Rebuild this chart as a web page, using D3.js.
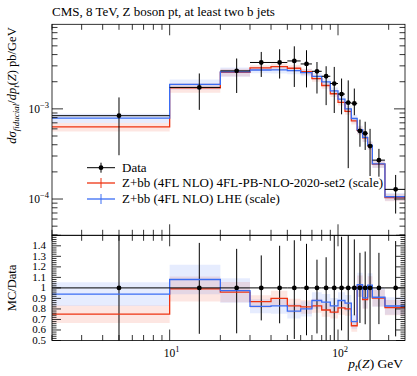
<!DOCTYPE html>
<html>
<head>
<meta charset="utf-8">
<script src="https://cdn.jsdelivr.net/npm/d3@7"></script>
<style>
	body{margin:0;background:#fff;}
	svg{font-family:'Liberation Serif',serif;}
</style>
</head>
<body>
<svg id="chart" width="417" height="376"></svg>
<script>
// pt(Z) bin edges and centres, GeV
const binEdges = [0,10,20,30,40,50,60,70,80,90,100,110,120,130,140,150,160,190,250]
const binCentres = [5,15,25,35,45,55,65,75,85,95,105,115,125,135,145,155,175,220]

// CMS data, pb/GeV (value, top and bottom of the error bar)
const dataValues = [8.4e-4,1.73e-3,2.64e-3,3.27e-3,3.27e-3,3.40e-3,3.15e-3,2.61e-3,2.30e-3,1.91e-3,1.46e-3,1.17e-3,1.15e-3,5.7e-4,5.35e-4,3.87e-4,2.70e-4,1.28e-4]
const dataErrTop = [1.34e-3,2.47e-3,3.62e-3,4.28e-3,4.58e-3,4.94e-3,4.47e-3,3.31e-3,2.97e-3,2.92e-3,2.17e-3,2.07e-3,1.68e-3,7.6e-4,7.2e-4,6.0e-4,3.6e-4,1.85e-4]
const dataErrBottom = [3.06e-4,9.75e-4,1.50e-3,2.26e-3,2.17e-3,1.75e-3,1.73e-3,1.48e-3,1.10e-3,9.0e-4,8.7e-4,2.2e-4,8.5e-4,3.8e-4,3.5e-4,1.8e-4,1.77e-4,6.9e-5]

// MC predictions, pb/GeV
const pbValues = [6.30e-4,1.713e-3,2.534e-3,2.845e-3,2.943e-3,2.822e-3,2.583e-3,2.166e-3,1.817e-3,1.471e-3,1.183e-3,9.36e-4,7.36e-4,5.79e-4,4.76e-4,3.91e-4,2.44e-4,1.04e-4]
const lheValues = [7.90e-4,1.868e-3,2.574e-3,2.698e-3,2.714e-3,2.652e-3,2.520e-3,2.297e-3,1.990e-3,1.585e-3,1.285e-3,1.000e-3,7.82e-4,5.87e-4,4.84e-4,3.97e-4,2.46e-4,1.06e-4]

// relative scale uncertainty (half width)
const pbBand = [0.11,0.12,0.10,0.07,0.08,0.08,0.08,0.08,0.08,0.08,0.08,0.08,0.09,0.10,0.10,0.10,0.09,0.09]
const lheBand = [0.12,0.13,0.12,0.08,0.09,0.09,0.09,0.09,0.09,0.09,0.09,0.09,0.10,0.11,0.11,0.11,0.10,0.10]

const legendLabels = ['Data','Z+bb (4FL NLO) 4FL-PB-NLO-2020-set2 (scale)','Z+bb (4FL NLO) LHE (scale)']
const ratioTickLabels = ['1.4','1.3','1.2','1.1','1','0.9','0.8','0.7','0.6','0.5']

const colours = {pb:'#ee3311', lhe:'#3a6cf4'}
const bandColours = {pb:'rgba(238,51,17,0.12)', lhe:'rgba(58,108,244,0.13)'}

let frame = {left:52, right:405, top:24.3, split:235.3, bottom:340.5}

const svg = d3.select('#chart')

const xScale = d3.scaleLog().domain([2,250]).range([frame.left,frame.right])
const yTop = d3.scaleLog().domain([3.96e-5,8.67e-3]).range([frame.split,frame.top])
const yRatio = d3.scaleLinear().domain([0.5,1.5]).range([frame.bottom,frame.split])

const bx = (v)=> xScale(Math.max(v, xScale.domain()[0]))

// clip paths
const defs = svg.append('defs')
defs.append('clipPath').attr('id','clipTop').append('rect')
	.attr('x',frame.left).attr('y',frame.top)
	.attr('width',frame.right-frame.left).attr('height',frame.split-frame.top)
defs.append('clipPath').attr('id','clipRatio').append('rect')
	.attr('x',frame.left).attr('y',frame.split)
	.attr('width',frame.right-frame.left).attr('height',frame.bottom-frame.split)

const steps = (vals, band)=> vals.flatMap((v,i)=>[
	[binEdges[i], v, band ? band[i] : 0],
	[binEdges[i+1], v, band ? band[i] : 0]
])

/* ---------- top panel ---------- */
const topPanel = svg.append('g').attr('clip-path','url(#clipTop)')

const bandArea = (y)=> d3.area()
	.x(d => bx(d[0]))
	.y0(d => y(d[1]*(1-d[2])))
	.y1(d => y(d[1]*(1+d[2])))

const stepLine = (y)=> d3.line()
	.x(d => bx(d[0]))
	.y(d => y(d[1]))

topPanel.append('path').datum(steps(pbValues,pbBand))
	.attr('d',bandArea(yTop)).attr('fill',bandColours.pb)
topPanel.append('path').datum(steps(lheValues,lheBand))
	.attr('d',bandArea(yTop)).attr('fill',bandColours.lhe)
topPanel.append('path').datum(steps(pbValues))
	.attr('d',stepLine(yTop)).attr('fill','none').attr('stroke',colours.pb).attr('stroke-width',1.3)
topPanel.append('path').datum(steps(lheValues))
	.attr('d',stepLine(yTop)).attr('fill','none').attr('stroke',colours.lhe).attr('stroke-width',1.3)

const dataG = topPanel.append('g')
dataValues.forEach((v,i)=>{
	dataG.append('line')
		.attr('x1',bx(binEdges[i])).attr('x2',bx(binEdges[i+1]))
		.attr('y1',yTop(v)).attr('y2',yTop(v))
		.attr('stroke','#000').attr('stroke-width',1)
	dataG.append('line')
		.attr('x1',xScale(binCentres[i])).attr('x2',xScale(binCentres[i]))
		.attr('y1',yTop(dataErrTop[i])).attr('y2',yTop(dataErrBottom[i]))
		.attr('stroke','#000').attr('stroke-width',1)
	dataG.append('circle')
		.attr('cx',xScale(binCentres[i])).attr('cy',yTop(v)).attr('r',2.4)
		.attr('fill','#000')
})

/* ---------- ratio panel ---------- */
const ratioPanel = svg.append('g').attr('clip-path','url(#clipRatio)')

const ratioOf = (vals)=> vals.map((v,i)=> v / dataValues[i])

ratioPanel.append('path').datum(steps(ratioOf(pbValues),pbBand))
	.attr('d',bandArea(yRatio)).attr('fill',bandColours.pb)
ratioPanel.append('path').datum(steps(ratioOf(lheValues),lheBand))
	.attr('d',bandArea(yRatio)).attr('fill',bandColours.lhe)

dataValues.forEach((v,i)=>{
	ratioPanel.append('line')
		.attr('x1',xScale(binCentres[i])).attr('x2',xScale(binCentres[i]))
		.attr('y1',yRatio(dataErrTop[i]/v)).attr('y2',yRatio(dataErrBottom[i]/v))
		.attr('stroke','#000').attr('stroke-width',1)
})

ratioPanel.append('path').datum(steps(ratioOf(pbValues)))
	.attr('d',stepLine(yRatio)).attr('fill','none').attr('stroke',colours.pb).attr('stroke-width',1.3)
ratioPanel.append('path').datum(steps(ratioOf(lheValues)))
	.attr('d',stepLine(yRatio)).attr('fill','none').attr('stroke',colours.lhe).attr('stroke-width',1.3)

ratioPanel.append('path').datum(steps(dataValues.map(()=>1)))
	.attr('d',stepLine(yRatio)).attr('fill','none').attr('stroke','#000').attr('stroke-width',1)
dataValues.forEach((v,i)=>{
	ratioPanel.append('circle')
		.attr('cx',xScale(binCentres[i])).attr('cy',yRatio(1)).attr('r',2.4)
		.attr('fill','#000')
})

/* ---------- frames and ticks ---------- */
const axes = svg.append('g').attr('stroke','#000').attr('stroke-width',0.8)

axes.append('rect').attr('x',frame.left).attr('y',frame.top)
	.attr('width',frame.right-frame.left).attr('height',frame.split-frame.top).attr('fill','none')
axes.append('rect').attr('x',frame.left).attr('y',frame.split)
	.attr('width',frame.right-frame.left).attr('height',frame.bottom-frame.split).attr('fill','none')

const xMajor = [10,100]
const xMinor = xScale.ticks().filter(t => xMajor.indexOf(t) < 0)

// x ticks on every horizontal edge, dir = +1 points down
const xEdgeTicks = (y, dir)=>{
	xMajor.forEach(t => axes.append('line').attr('x1',xScale(t)).attr('x2',xScale(t)).attr('y1',y).attr('y2',y+dir*11))
	xMinor.forEach(t => axes.append('line').attr('x1',xScale(t)).attr('x2',xScale(t)).attr('y1',y).attr('y2',y+dir*5.5))
}
xEdgeTicks(frame.top, 1)
xEdgeTicks(frame.split, -1)
xEdgeTicks(frame.split, 1)
xEdgeTicks(frame.bottom, -1)

// log y ticks, top panel
const yTopTicks = yTop.ticks()
yTopTicks.forEach(t=>{
	let major = Math.abs(Math.log10(t) - Math.round(Math.log10(t))) < 1e-6
	let len = major ? 11 : 5.5
	axes.append('line').attr('x1',frame.left).attr('x2',frame.left+len).attr('y1',yTop(t)).attr('y2',yTop(t))
	axes.append('line').attr('x1',frame.right).attr('x2',frame.right-len).attr('y1',yTop(t)).attr('y2',yTop(t))
})

// ratio y ticks
d3.range(0.5,1.501,0.02).forEach(t=>{
	let major = Math.abs(t*10 - Math.round(t*10)) < 1e-6
	let len = major ? 9 : 4.5
	axes.append('line').attr('x1',frame.left).attr('x2',frame.left+len).attr('y1',yRatio(t)).attr('y2',yRatio(t))
	axes.append('line').attr('x1',frame.right).attr('x2',frame.right-len).attr('y1',yRatio(t)).attr('y2',yRatio(t))
})

/* ---------- labels ---------- */
const labels = svg.append('g').attr('fill','#000')

labels.append('text')
	.attr('x',frame.left).attr('y',16)
	.attr('font-size',13)
	.text('CMS, 8 TeV, Z boson pt, at least two b jets')

const powerLabel = (x, y, exp, anchor)=>{
	let t = labels.append('text').attr('x',x).attr('y',y).attr('font-size',11.5).attr('text-anchor',anchor)
	t.append('tspan').text('10')
	t.append('tspan').attr('dy',-5).attr('font-size',8.5).text(exp)
}
powerLabel(frame.left-3, yTop(1e-3)+4, '\u22123', 'end')
powerLabel(frame.left-3, yTop(1e-4)+4, '\u22124', 'end')
powerLabel(xScale(10)+2, 357, '1', 'middle')
powerLabel(xScale(100)+2, 357, '2', 'middle')

ratioTickLabels.forEach(l=>{
	labels.append('text')
		.attr('x',frame.left-6).attr('y',yRatio(+l)+3.5)
		.attr('font-size',11).attr('text-anchor','end')
		.text(l)
})

// axis titles
const yTitle = labels.append('text')
	.attr('transform',`translate(16,${frame.top+3}) rotate(-90)`)
	.attr('text-anchor','end').attr('font-size',12.5)
yTitle.append('tspan').attr('font-style','italic').text('d\u03c3')
yTitle.append('tspan').attr('font-style','italic').attr('font-size',9).attr('dy',2.5).text('fiducial')
yTitle.append('tspan').attr('dy',-2.5).text('/')
yTitle.append('tspan').attr('font-style','italic').text('dp')
yTitle.append('tspan').attr('font-style','italic').attr('font-size',9).attr('dy',2.5).text('t')
yTitle.append('tspan').attr('dy',-2.5).text('(')
yTitle.append('tspan').attr('font-style','italic').text('Z')
yTitle.append('tspan').text(') pb/GeV')

labels.append('text')
	.attr('transform',`translate(16,${yRatio(1)}) rotate(-90)`)
	.attr('text-anchor','middle').attr('font-size',12.5)
	.text('MC/Data')

const xTitle = labels.append('text')
	.attr('x',frame.right-2).attr('y',368)
	.attr('text-anchor','end').attr('font-size',13.5)
xTitle.append('tspan').attr('font-style','italic').text('p')
xTitle.append('tspan').attr('font-style','italic').attr('font-size',9.5).attr('dy',2.5).text('t')
xTitle.append('tspan').attr('dy',-2.5).text('(')
xTitle.append('tspan').attr('font-style','italic').text('Z')
xTitle.append('tspan').text(') GeV')

/* ---------- legend ---------- */
const legendRows = [167.7, 183, 199]
const legendColours = ['#000', colours.pb, colours.lhe]
const legend = svg.append('g')

legendLabels.forEach((l,i)=>{
	let y = legendRows[i]
	legend.append('line')
		.attr('x1',87).attr('x2',115).attr('y1',y).attr('y2',y)
		.attr('stroke',legendColours[i]).attr('stroke-width',i ? 1.3 : 1)
	legend.append('line')
		.attr('x1',101).attr('x2',101).attr('y1',y-5).attr('y2',y+5)
		.attr('stroke',legendColours[i]).attr('stroke-width',1)
	if(i == 0){
		legend.append('circle').attr('cx',101).attr('cy',y).attr('r',2.4).attr('fill','#000')
	}
	legend.append('text')
		.attr('x',122).attr('y',y+4)
		.attr('font-size',13)
		.text(l)
})
</script>
</body>
</html>
